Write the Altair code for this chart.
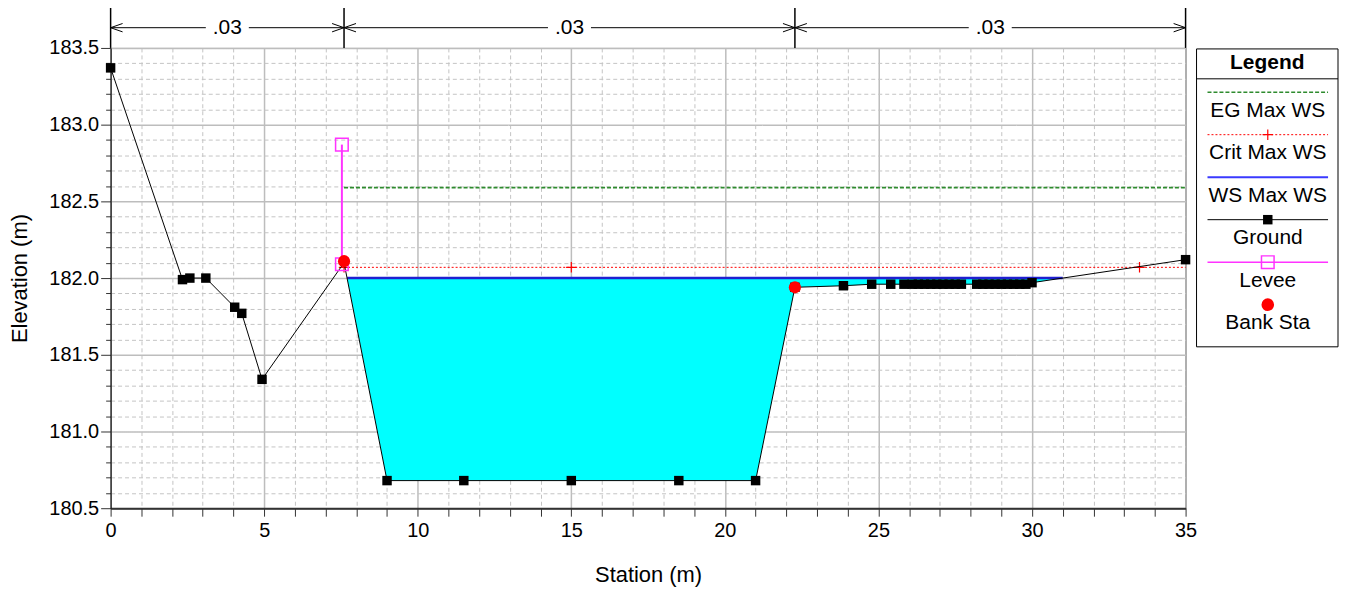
import altair as alt
import pandas as pd

# ---------------- data ----------------
ground_sta = [0.0, 2.34, 2.58, 3.1, 4.04, 4.27, 4.93, 7.6, 9.0, 11.5, 15.0, 18.5, 21.0,
              22.28, 23.86, 24.78, 25.4, 25.83, 26.1, 26.3, 26.5, 26.7, 26.9, 27.1, 27.3,
              27.5, 27.7, 28.2, 28.4, 28.6, 28.8, 29.0, 29.2, 29.4, 29.6, 29.8, 30.0, 35.0]
ground_elev = [183.37, 181.99, 182.0, 182.0, 181.81, 181.77, 181.34, 182.1, 180.68, 180.68,
               180.68, 180.68, 180.68, 181.94, 181.95, 181.96, 181.96, 181.96, 181.96,
               181.96, 181.96, 181.96, 181.96, 181.96, 181.96, 181.96, 181.96, 181.96,
               181.96, 181.96, 181.96, 181.96, 181.96, 181.96, 181.96, 181.96, 181.97, 182.12]

ws_elev = 182.0
ws_left, ws_right = 7.7, 31.0

eg_elev = 182.59
eg_sta = [7.6, 35.0]

crit_elev = 182.07
crit_sta = [7.6, 35.0]
crit_marker_sta = [7.6, 15.0, 33.5]

levee_sta = 7.53
levee_elev = [182.09, 182.87]

bank_sta = [7.6, 22.28]
bank_elev = [182.11, 181.94]

n_bounds = [0.0, 7.6, 22.28, 35.0]
n_values = [".03", ".03", ".03"]

legend_names = ["EG Max WS", "Crit Max WS", "WS Max WS", "Ground", "Levee", "Bank Sta"]

# ---------------- style ----------------
FONT = "Liberation Sans"
Y_TOP = 183.5          # top of plot
Y_BAR = 183.768        # top of the n-value separator bars
Y_ARROW = 183.632      # n-value arrow line
GAP = 0.7              # half gap around n label (station units)

# ---------------- tables ----------------
ground_df = pd.DataFrame({"x": ground_sta, "y": ground_elev})
gpts_df = ground_df[ground_df["x"] != bank_sta[0]]

inside = [(s, e) for s, e in zip(ground_sta, ground_elev) if ws_left < s < ws_right]
water_df = pd.DataFrame({
    "x": [ws_left] + [s for s, _ in inside] + [ws_right],
    "y": [ws_elev] + [e for _, e in inside] + [ws_elev],
})
water_df["y2"] = ws_elev
ws_df = pd.DataFrame({"x": [ws_left, ws_right], "y": [ws_elev, ws_elev]})
eg_df = pd.DataFrame({"x": eg_sta, "y": [eg_elev] * len(eg_sta)})
crit_df = pd.DataFrame({"x": crit_sta, "y": [crit_elev] * len(crit_sta)})
critm_df = pd.DataFrame({"x": crit_marker_sta, "y": [crit_elev] * len(crit_marker_sta)})
levee_df = pd.DataFrame({"x": [levee_sta] * 2, "y": levee_elev})
bank_df = pd.DataFrame({"x": bank_sta, "y": bank_elev})

bars_df = pd.DataFrame({"x": n_bounds, "y": [Y_TOP] * len(n_bounds), "y2": [Y_BAR] * len(n_bounds)})
segs = []
labs = []
for a, b, v in zip(n_bounds[:-1], n_bounds[1:], n_values):
    m = (a + b) / 2
    segs.append({"x": a, "x2": m - GAP, "y": Y_ARROW})
    segs.append({"x": m + GAP, "x2": b, "y": Y_ARROW})
    labs.append({"x": m, "y": Y_ARROW, "t": v})
segs_df = pd.DataFrame(segs)
labs_df = pd.DataFrame(labs)
chev_l_df = pd.DataFrame({"x": n_bounds[:-1], "y": [Y_ARROW] * (len(n_bounds) - 1)})
chev_r_df = pd.DataFrame({"x": n_bounds[1:], "y": [Y_ARROW] * (len(n_bounds) - 1)})

leg_df = pd.DataFrame({"name": legend_names, "i": list(range(len(legend_names)))})

# ---------------- scales / axes ----------------
major_x = "datum.value % 5 === 0"
xaxis = alt.Axis(
    values=list(range(0, 36)),
    labelExpr="datum.value % 5 === 0 ? datum.label : ''",
    grid=True,
    gridColor={"condition": {"test": major_x, "value": "#bdbdbd"}, "value": "#c4c4c4"},
    gridDash={"condition": {"test": major_x, "value": [1, 0]}, "value": [4, 3]},
    gridWidth={"condition": {"test": major_x, "value": 1.5}, "value": 1},
    tickSize=8, tickColor="#333333", domainColor="#333333", domainWidth=2,
    labelFontSize=20, labelColor="black", labelPadding=4, labelFlush=False,
    labelOverlap=False, title="Station (m)", titleFontSize=22,
    titleFontWeight="normal", titleColor="black", titlePadding=25,
)
major_y = "round(datum.value * 10) % 5 === 0"
yaxis = alt.Axis(
    values=[round(180.5 + 0.1 * k, 1) for k in range(31)],
    labelExpr="round(datum.value * 10) % 5 === 0 ? format(datum.value, '.1f') : ''",
    grid=True,
    gridColor={"condition": {"test": major_y, "value": "#bdbdbd"}, "value": "#c4c4c4"},
    gridDash={"condition": {"test": major_y, "value": [1, 0]}, "value": [4, 3]},
    gridWidth={"condition": {"test": major_y, "value": 1.5}, "value": 1},
    tickSize={"condition": {"test": major_y, "value": 10}, "value": 5},
    tickColor="#333333", domainColor="black", domainWidth=1,
    labelFontSize=20, labelColor="black", labelPadding=2, labelOverlap=False,
    title="Elevation (m)", titleFontSize=22, titleFontWeight="normal",
    titleColor="black", titlePadding=17,
)
xscale = alt.Scale(domain=[0, 35], nice=False, zero=False)
yscale = alt.Scale(domain=[180.5, 183.5], nice=False, zero=False)

X = alt.X("x:Q", scale=xscale, axis=xaxis)
Y = alt.Y("y:Q", scale=yscale, axis=yaxis)

chev_left = "M2,-0.7L0,0L2,0.7"
chev_right = "M-2,-0.7L0,0L-2,0.7"
plus = "M-1,0L1,0M0,-1L0,1"

area = alt.Chart(water_df).mark_area(color="#00ffff", opacity=1).encode(x=X, y=Y, y2="y2:Q")
ws = alt.Chart(ws_df).mark_line(color="#1f1fd0", strokeWidth=2.5).encode(x=X, y=Y)
eg = alt.Chart(eg_df).mark_line(color="#2e8b2e", strokeWidth=1.8, strokeDash=[4, 2]).encode(x=X, y=Y)
crit = alt.Chart(crit_df).mark_line(color="#ff0000", strokeWidth=1, strokeDash=[2, 2]).encode(x=X, y=Y)
critm = alt.Chart(critm_df).mark_point(shape=plus, size=110, color="#ff0000", filled=False,
                                       strokeWidth=1.2, opacity=1).encode(x=X, y=Y)
levee_line = alt.Chart(levee_df).mark_line(color="#ff33ff", strokeWidth=2).encode(x=X, y=Y)
gline = alt.Chart(ground_df).mark_line(color="black", strokeWidth=1).encode(x=X, y=Y)
gpts = alt.Chart(gpts_df).mark_square(size=90, color="black", opacity=1).encode(x=X, y=Y)
levee_pts = alt.Chart(levee_df).mark_square(size=160, filled=False, color="#ff33ff",
                                            strokeWidth=1.5, opacity=1).encode(x=X, y=Y)
bank = alt.Chart(bank_df).mark_circle(size=150, color="#ff0000", opacity=1).encode(x=X, y=Y)

bars = alt.Chart(bars_df).mark_rule(color="black", strokeWidth=1.5).encode(x=X, y=Y, y2="y2:Q")
segl = alt.Chart(segs_df).mark_rule(color="black", strokeWidth=1).encode(x=X, x2="x2:Q", y=Y)
chl = alt.Chart(chev_l_df).mark_point(shape=chev_left, size=144, color="black", filled=False,
                                      strokeWidth=1, opacity=1).encode(x=X, y=Y)
chr_ = alt.Chart(chev_r_df).mark_point(shape=chev_right, size=144, color="black", filled=False,
                                       strokeWidth=1, opacity=1).encode(x=X, y=Y)
nlab = alt.Chart(labs_df).mark_text(fontSize=21, color="black", baseline="middle",
                                    align="center").encode(x=X, y=Y, text="t:N")

main = alt.layer(area, ws, eg, crit, critm, levee_line, gline, gpts, levee_pts, bank,
                 bars, segl, chl, chr_, nlab)

# ---------------- legend panel ----------------
LX0, LX1, LXC = 1101, 1222, 1161.5
LY = alt.Y("i:Q", scale=alt.Scale(domain=[0, 5], range=[44.4, 257.7]), axis=None)
one = pd.DataFrame({"k": [0]})
box = alt.Chart(one).mark_rect(fill="white", stroke="black", strokeWidth=1).encode(
    x=alt.value(1090), x2=alt.value(1232), y=alt.value(1), y2=alt.value(300))
sep = alt.Chart(one).mark_rule(color="black", strokeWidth=1).encode(
    x=alt.value(1090), x2=alt.value(1232), y=alt.value(31))
ltitle = alt.Chart(one).mark_text(fontSize=21, fontWeight="bold", color="black",
                                  baseline="middle").encode(
    x=alt.value(1161), y=alt.value(15), text=alt.value("Legend"))

base_leg = alt.Chart(leg_df)
l_eg = base_leg.transform_filter("datum.i === 0").mark_rule(
    color="#2e8b2e", strokeWidth=1.5, strokeDash=[4, 2]).encode(x=alt.value(LX0), x2=alt.value(LX1), y=LY)
l_crit = base_leg.transform_filter("datum.i === 1").mark_rule(
    color="#ff0000", strokeWidth=1, strokeDash=[2, 2]).encode(x=alt.value(LX0), x2=alt.value(LX1), y=LY)
l_critm = base_leg.transform_filter("datum.i === 1").mark_point(
    shape=plus, size=110, color="#ff0000", filled=False, strokeWidth=1.2, opacity=1).encode(
    x=alt.value(LXC), y=LY)
l_ws = base_leg.transform_filter("datum.i === 2").mark_rule(
    color="#3a3aff", strokeWidth=2).encode(x=alt.value(LX0), x2=alt.value(LX1), y=LY)
l_g = base_leg.transform_filter("datum.i === 3").mark_rule(
    color="black", strokeWidth=1).encode(x=alt.value(LX0), x2=alt.value(LX1), y=LY)
l_gp = base_leg.transform_filter("datum.i === 3").mark_square(
    size=90, color="black", opacity=1).encode(x=alt.value(LXC), y=LY)
l_lv = base_leg.transform_filter("datum.i === 4").mark_rule(
    color="#ff33ff", strokeWidth=1.5).encode(x=alt.value(LX0), x2=alt.value(LX1), y=LY)
l_lvp = base_leg.transform_filter("datum.i === 4").mark_square(
    size=160, filled=False, color="#ff33ff", strokeWidth=1.5, opacity=1).encode(x=alt.value(LXC), y=LY)
l_bk = base_leg.transform_filter("datum.i === 5").mark_circle(
    size=160, color="#ff0000", opacity=1).encode(x=alt.value(LXC), y=LY)
l_txt = base_leg.mark_text(fontSize=21, color="black", baseline="middle", dy=18.7).encode(
    x=alt.value(LXC), y=LY, text="name:N")

legend = alt.layer(box, sep, ltitle, l_eg, l_crit, l_critm, l_ws, l_g, l_gp, l_lv, l_lvp, l_bk, l_txt)

chart = alt.layer(main, legend).resolve_scale(y="independent").properties(
    width=1079, height=462,
    autosize=alt.AutoSizeParams(type="none"),
    padding={"left": 103, "top": 39, "right": 156, "bottom": 80},
    background="white",
).configure(font=FONT).configure_view(stroke="black", strokeWidth=1).configure_axis(
    labelFont=FONT, titleFont=FONT)

chart.save("out.html", embed_options={"renderer": "svg", "actions": False})
